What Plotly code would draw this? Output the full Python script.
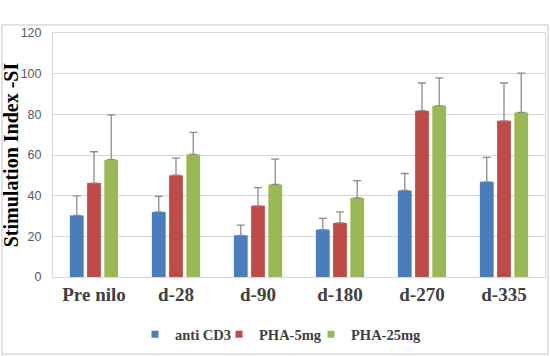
import plotly.graph_objects as go

categories = ["Pre nilo", "d-28", "d-90", "d-180", "d-270", "d-335"]
anti_cd3 = [30.3, 32.0, 20.5, 23.3, 42.6, 46.8]
anti_cd3_err = [9.6, 7.7, 5.0, 5.5, 8.3, 12.0]
pha_5 = [46.2, 50.1, 35.0, 26.6, 81.8, 76.8]
pha_5_err = [15.4, 8.4, 9.0, 5.4, 13.6, 18.6]
pha_25 = [57.7, 60.3, 45.5, 38.9, 84.2, 80.9]
pha_25_err = [22.0, 10.8, 12.5, 8.5, 13.7, 19.4]

series = [
    ("anti CD3", anti_cd3, anti_cd3_err, "#4a7ebb", "legend"),
    ("PHA-5mg", pha_5, pha_5_err, "#be4b48", "legend2"),
    ("PHA-25mg", pha_25, pha_25_err, "#98b954", "legend3"),
]

fig = go.Figure()
for name, vals, errs, col, lg in series:
    fig.add_trace(go.Bar(
        x=categories, y=vals, name=name, showlegend=False,
        marker=dict(color=col, line=dict(width=0)),
        error_y=dict(type="data", array=errs, arrayminus=[0] * len(errs),
                     symmetric=False, color="#8c8c8c", thickness=1.3, width=4),
    ))
# legend entries (small square keys as in the reference)
for name, vals, errs, col, lg in series:
    fig.add_trace(go.Scatter(
        x=[None], y=[None], mode="markers", name=name, legend=lg,
        marker=dict(symbol="square", size=7, color=col),
    ))

legend_font = dict(family="Liberation Serif", size=14.5, color="#404040", weight="bold")
def leg(x):
    return dict(orientation="h", x=x, xanchor="left", y=-0.235, yanchor="middle",
                font=legend_font, itemwidth=30, bgcolor="rgba(0,0,0,0)")

fig.update_layout(
    width=550, height=356,
    margin=dict(l=53, r=5, t=33, b=79, autoexpand=False),
    paper_bgcolor="white", plot_bgcolor="white",
    barmode="group", bargap=0.37, bargroupgap=0.2,
    showlegend=True,
    legend=leg(0.1667), legend2=leg(0.3374), legend3=leg(0.5244),
    xaxis=dict(
        tickfont=dict(family="Liberation Serif", size=19, color="#404040", weight="bold"),
        showline=True, linecolor="#d9d9d9", linewidth=1, mirror=True,
        ticks="", showgrid=False, automargin=False,
    ),
    yaxis=dict(
        range=[0, 120], dtick=20,
        tickfont=dict(family="Liberation Sans", size=12.5, color="#595959"),
        gridcolor="#d9d9d9", gridwidth=1,
        showline=True, linecolor="#d9d9d9", linewidth=1, mirror=True,
        zeroline=False, ticks="", ticklabelstandoff=8, automargin=False,
        title=dict(text="Stimulation Index -SI",
                   font=dict(family="Liberation Serif", size=20, color="black", weight="bold"),
                   standoff=8),
    ),
    shapes=[dict(type="rect", xref="paper", yref="paper",
                 x0=-0.1037, x1=1.006, y0=-0.317, y1=1.033,
                 line=dict(color="#d9d9d9", width=1.5), fillcolor="rgba(0,0,0,0)",
                 layer="below")],
)

fig.write_html("out.html", config={"displayModeBar": False},
               post_script="document.body.style.margin='0';")
